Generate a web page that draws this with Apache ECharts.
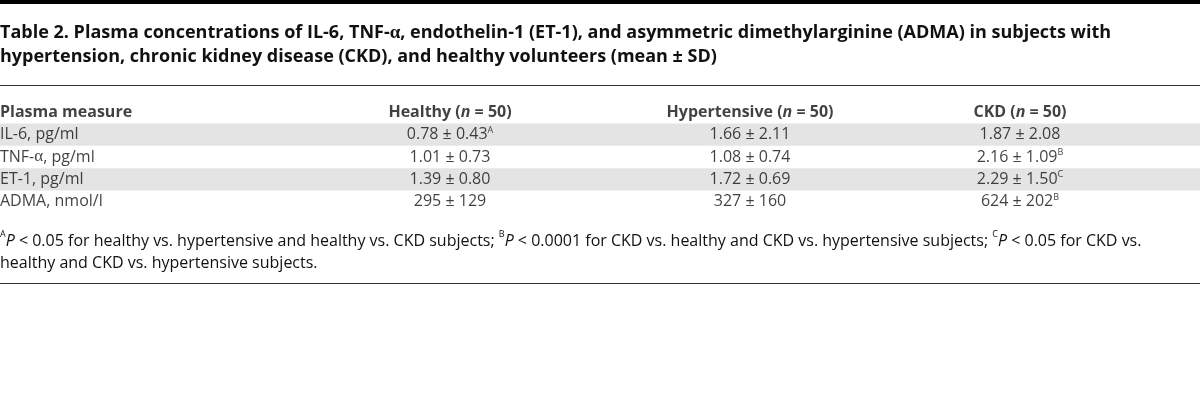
<!DOCTYPE html>
<html>
<head>
<meta charset="utf-8">
<script src="https://cdn.jsdelivr.net/npm/echarts@6/dist/echarts.min.js"></script>
<style>
  html, body { margin: 0; padding: 0; background: #fff; }
  #chart { width: 1200px; height: 418px; }
</style>
</head>
<body>
<div id="chart"></div>
<script>
// table contents
const measures = ["IL-6, pg/ml", "TNF-α, pg/ml", "ET-1, pg/ml", "ADMA, nmol/l"];
const groups = ["Healthy", "Hypertensive", "CKD"];
const groupN = [50, 50, 50];
const decimals = [2, 2, 2, 0];

const healthyMean = [0.78, 1.01, 1.39, 295];
const healthySD = [0.43, 0.73, 0.80, 129];
const healthySig = ["A", "", "", ""];

const hyperMean = [1.66, 1.08, 1.72, 327];
const hyperSD = [2.11, 0.74, 0.69, 160];
const hyperSig = ["", "", "", ""];

const ckdMean = [1.87, 2.16, 2.29, 624];
const ckdSD = [2.08, 1.09, 1.50, 202];
const ckdSig = ["", "B", "C", "B"];

const FONT = "Open Sans";
const INK = "#111";
const BODY = 16;

const rowNames = ["header"].concat(measures);
const colNames = ["measure"].concat(groups);

function cellText(mean, sd, sig, d) {
  let s = "{n|" + mean.toFixed(d) + " ± " + sd.toFixed(d) + "}";
  if (sig) s += "{sup|" + sig + "}";
  return s;
}
function measureText(m) {
  return m.split("α").map(p => "{n|" + p + "}").join("{g|α}").replace(/\{n\|\}/g, "");
}
function headerText(g, n) {
  return "{hb|" + g + " (}{hi|n}{hb| = " + n + ")}";
}

const richStyles = {
  n: { fontFamily: FONT, fontSize: BODY, color: INK, lineHeight: 18 },
  g: { fontFamily: "Liberation Serif", fontSize: BODY + 1, color: INK, lineHeight: 18 },
  sup: { fontFamily: FONT, fontSize: 9, color: INK, lineHeight: 10, verticalAlign: "top" },
  hb: { fontFamily: FONT, fontSize: BODY, fontWeight: 700, color: INK, lineHeight: 18 },
  hi: { fontFamily: FONT, fontSize: BODY, fontWeight: 700, fontStyle: "italic", color: INK, lineHeight: 18 }
};

// per-column label strings (first entry is the header row)
const colTexts = [
  ["{hb|Plasma measure}"].concat(measures.map(measureText)),
  [headerText(groups[0], groupN[0])].concat(healthyMean.map((m, i) => cellText(m, healthySD[i], healthySig[i], decimals[i]))),
  [headerText(groups[1], groupN[1])].concat(hyperMean.map((m, i) => cellText(m, hyperSD[i], hyperSig[i], decimals[i]))),
  [headerText(groups[2], groupN[2])].concat(ckdMean.map((m, i) => cellText(m, ckdSD[i], ckdSig[i], decimals[i])))
];
const colAlign = ["left", "center", "center", "center"];
const colOffset = [-150, 0, 0, -30];

const series = colTexts.map((texts, c) => ({
  type: "scatter",
  symbolSize: 0,
  silent: true,
  data: rowNames.map((r, i) => ({
    value: [colNames[c], r],
    label: i === 0 ? { fontWeight: 700 } : {}
  })),
  label: {
    show: true,
    position: "inside",
    align: colAlign[c],
    verticalAlign: "middle",
    offset: [colOffset[c], 0],
    fontFamily: FONT,
    fontSize: BODY,
    color: INK,
    formatter: p => texts[p.dataIndex],
    rich: richStyles
  }
}));

const chart = echarts.init(document.getElementById("chart"));
chart.setOption({
  animation: false,
  title: [
    {
      left: 0,
      top: 21,
      padding: 0,
      text: "{t|Table 2. Plasma concentrations of IL-6, TNF-}{tg|α}{t|, endothelin-1 (ET-1), and asymmetric dimethylarginine (ADMA) in subjects with}\n" +
            "{t|hypertension, chronic kidney disease (CKD), and healthy volunteers (mean ± SD)}",
      textStyle: {
        fontFamily: FONT,
        fontWeight: 700,
        fontSize: 18,
        rich: {
          t: { fontFamily: FONT, fontSize: 18, fontWeight: 700, color: INK, lineHeight: 24 },
          tg: { fontFamily: "Liberation Serif", fontSize: 19, fontWeight: 700, color: INK, lineHeight: 24 }
        }
      }
    },
    {
      left: 0,
      top: 230,
      padding: 0,
      text: "{s|A}{i|P}{r| < 0.05 for healthy vs. hypertensive and healthy vs. CKD subjects; }{s|B}{i|P}{r| < 0.0001 for CKD vs. healthy and CKD vs. hypertensive subjects; }{s|C}{i|P}{r| < 0.05 for CKD vs.}\n" +
            "{r|healthy and CKD vs. hypertensive subjects.}",
      textStyle: {
        fontFamily: FONT,
        fontWeight: "normal",
        fontSize: BODY,
        rich: {
          r: { fontFamily: FONT, fontSize: BODY, fontWeight: "normal", color: INK, lineHeight: 22 },
          i: { fontFamily: FONT, fontSize: BODY, fontWeight: "normal", fontStyle: "italic", color: INK, lineHeight: 22 },
          s: { fontFamily: FONT, fontSize: 9, fontWeight: "normal", color: INK, lineHeight: 18, verticalAlign: "top" }
        }
      }
    }
  ],
  grid: { left: 0, right: 0, top: 101, height: 112 },
  xAxis: {
    type: "category",
    data: colNames,
    axisLine: { show: false },
    axisTick: { show: false },
    axisLabel: { show: false },
    splitLine: { show: false }
  },
  yAxis: {
    type: "category",
    data: rowNames,
    inverse: true,
    axisLine: { show: false },
    axisTick: { show: false },
    axisLabel: { show: false },
    splitLine: { show: false },
    splitArea: { show: true, areaStyle: { color: ["rgba(0,0,0,0)", "#e4e4e4"] } }
  },
  graphic: [
    { type: "rect", shape: { x: 0, y: 0, width: 1200, height: 4 }, style: { fill: "#000" } },
    { type: "line", shape: { x1: 0, y1: 85.5, x2: 1200, y2: 85.5 }, style: { stroke: "#333", lineWidth: 1 } },
    { type: "line", shape: { x1: 0, y1: 283.5, x2: 1200, y2: 283.5 }, style: { stroke: "#333", lineWidth: 1 } }
  ],
  series: series
});
</script>
</body>
</html>
